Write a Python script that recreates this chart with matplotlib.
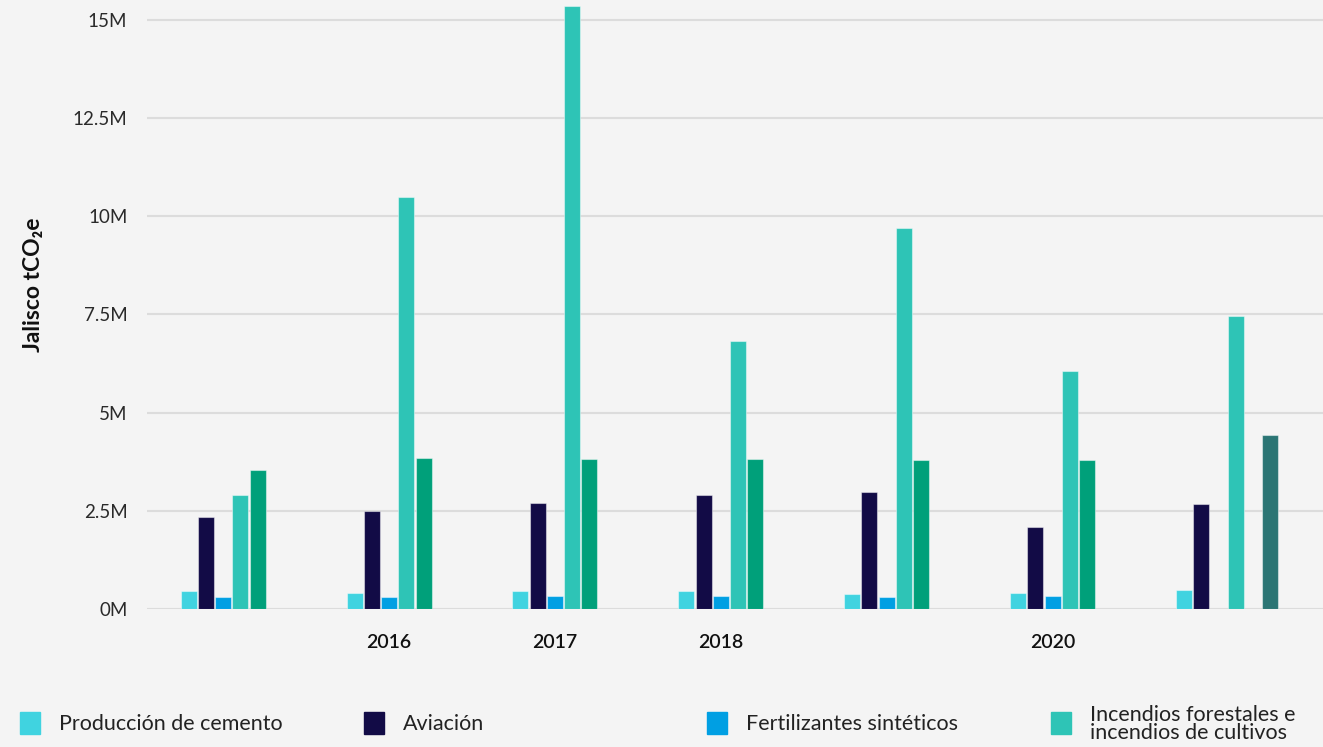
import numpy as np
import matplotlib.pyplot as plt
from matplotlib.patches import Rectangle

plt.rcParams['font.family'] = ['Lato', 'DejaVu Sans']

# emissions by source, Jalisco, millions of tCO2e
years = [2015, 2016, 2017, 2018, 2019, 2020, 2021]
cemento = [0.46, 0.42, 0.46, 0.47, 0.38, 0.42, 0.48]
aviacion = [2.33, 2.50, 2.71, 2.91, 2.98, 2.09, 2.67]
fertilizantes = [0.31, 0.31, 0.34, 0.32, 0.31, 0.34, None]
incendios = [2.89, 10.49, 15.36, 6.82, 9.70, 6.06, 7.46]
otros = [3.53, 3.85, 3.83, 3.82, 3.79, 3.79, None]
otros_2021 = [None, None, None, None, None, None, 4.44]

tick_years = [2016, 2017, 2018, 2020]
yticks = [0, 2.5, 5, 7.5, 10, 12.5, 15]
ytick_labels = ['0M', '2.5M', '5M', '7.5M', '10M', '12.5M', '15M']

series = [cemento, aviacion, fertilizantes, incendios, otros, otros_2021]
colors = ['#40d3e0', '#120b46', '#009fe3', '#2ec4b6', '#00a07a', '#2b7574']
legend_names = ['Producción de cemento', 'Aviación', 'Fertilizantes sintéticos',
                'Incendios forestales e\nincendios de cultivos']

fig = plt.figure(figsize=(13.23, 7.47), dpi=100)
fig.patch.set_facecolor('#f4f4f4')
ax = fig.add_axes([0.111, 0.1847, 0.889, 0.8153])
ax.set_facecolor('#f4f4f4')

slot = 0.104
width = 0.096
for i, (vals, c) in enumerate(zip(series, colors)):
    xs = [y + (i - 2) * slot for y, v in zip(years, vals) if v is not None]
    hs = [v for v in vals if v is not None]
    ax.bar(xs, hs, width=width, color=c, edgecolor=(1, 1, 1, 0.45),
           linewidth=0.8, zorder=3)

ax.set_xlim(2014.54, 2021.63)
ax.set_ylim(0, 15.5)
ax.set_yticks(yticks)
ax.set_yticklabels(ytick_labels)
ax.set_xticks(tick_years)
ax.set_xticklabels([str(y) for y in tick_years], fontsize=14,
                   fontweight='semibold', color='#111111')
ax.grid(axis='y', color='#dcdcdc', linewidth=1.5, zorder=0)
ax.tick_params(axis='y', length=0, pad=14, labelsize=13.5, labelcolor='#2a2a2a')
ax.tick_params(axis='x', length=0, pad=18)
for s in ax.spines.values():
    s.set_visible(False)

fig.text(0.025, 1 - 285 / 747, 'Jalisco tCO₂e', rotation=90, ha='center',
         va='center', fontsize=16.5, fontweight='bold', color='#111111')

# legend along the bottom
for k, (name, c) in enumerate(zip(legend_names, colors)):
    x0 = (20 + k * 343.5) / 1323
    fig.patches.append(Rectangle((x0, 1 - 734 / 747), 20 / 1323, 22 / 747,
                                 transform=fig.transFigure, color=c))
    fig.text(x0 + 39 / 1323, 1 - 724 / 747, name, ha='left', va='center',
             fontsize=15.5, color='#222222', linespacing=0.9)

fig.savefig('out.png', dpi=100, facecolor=fig.get_facecolor())
